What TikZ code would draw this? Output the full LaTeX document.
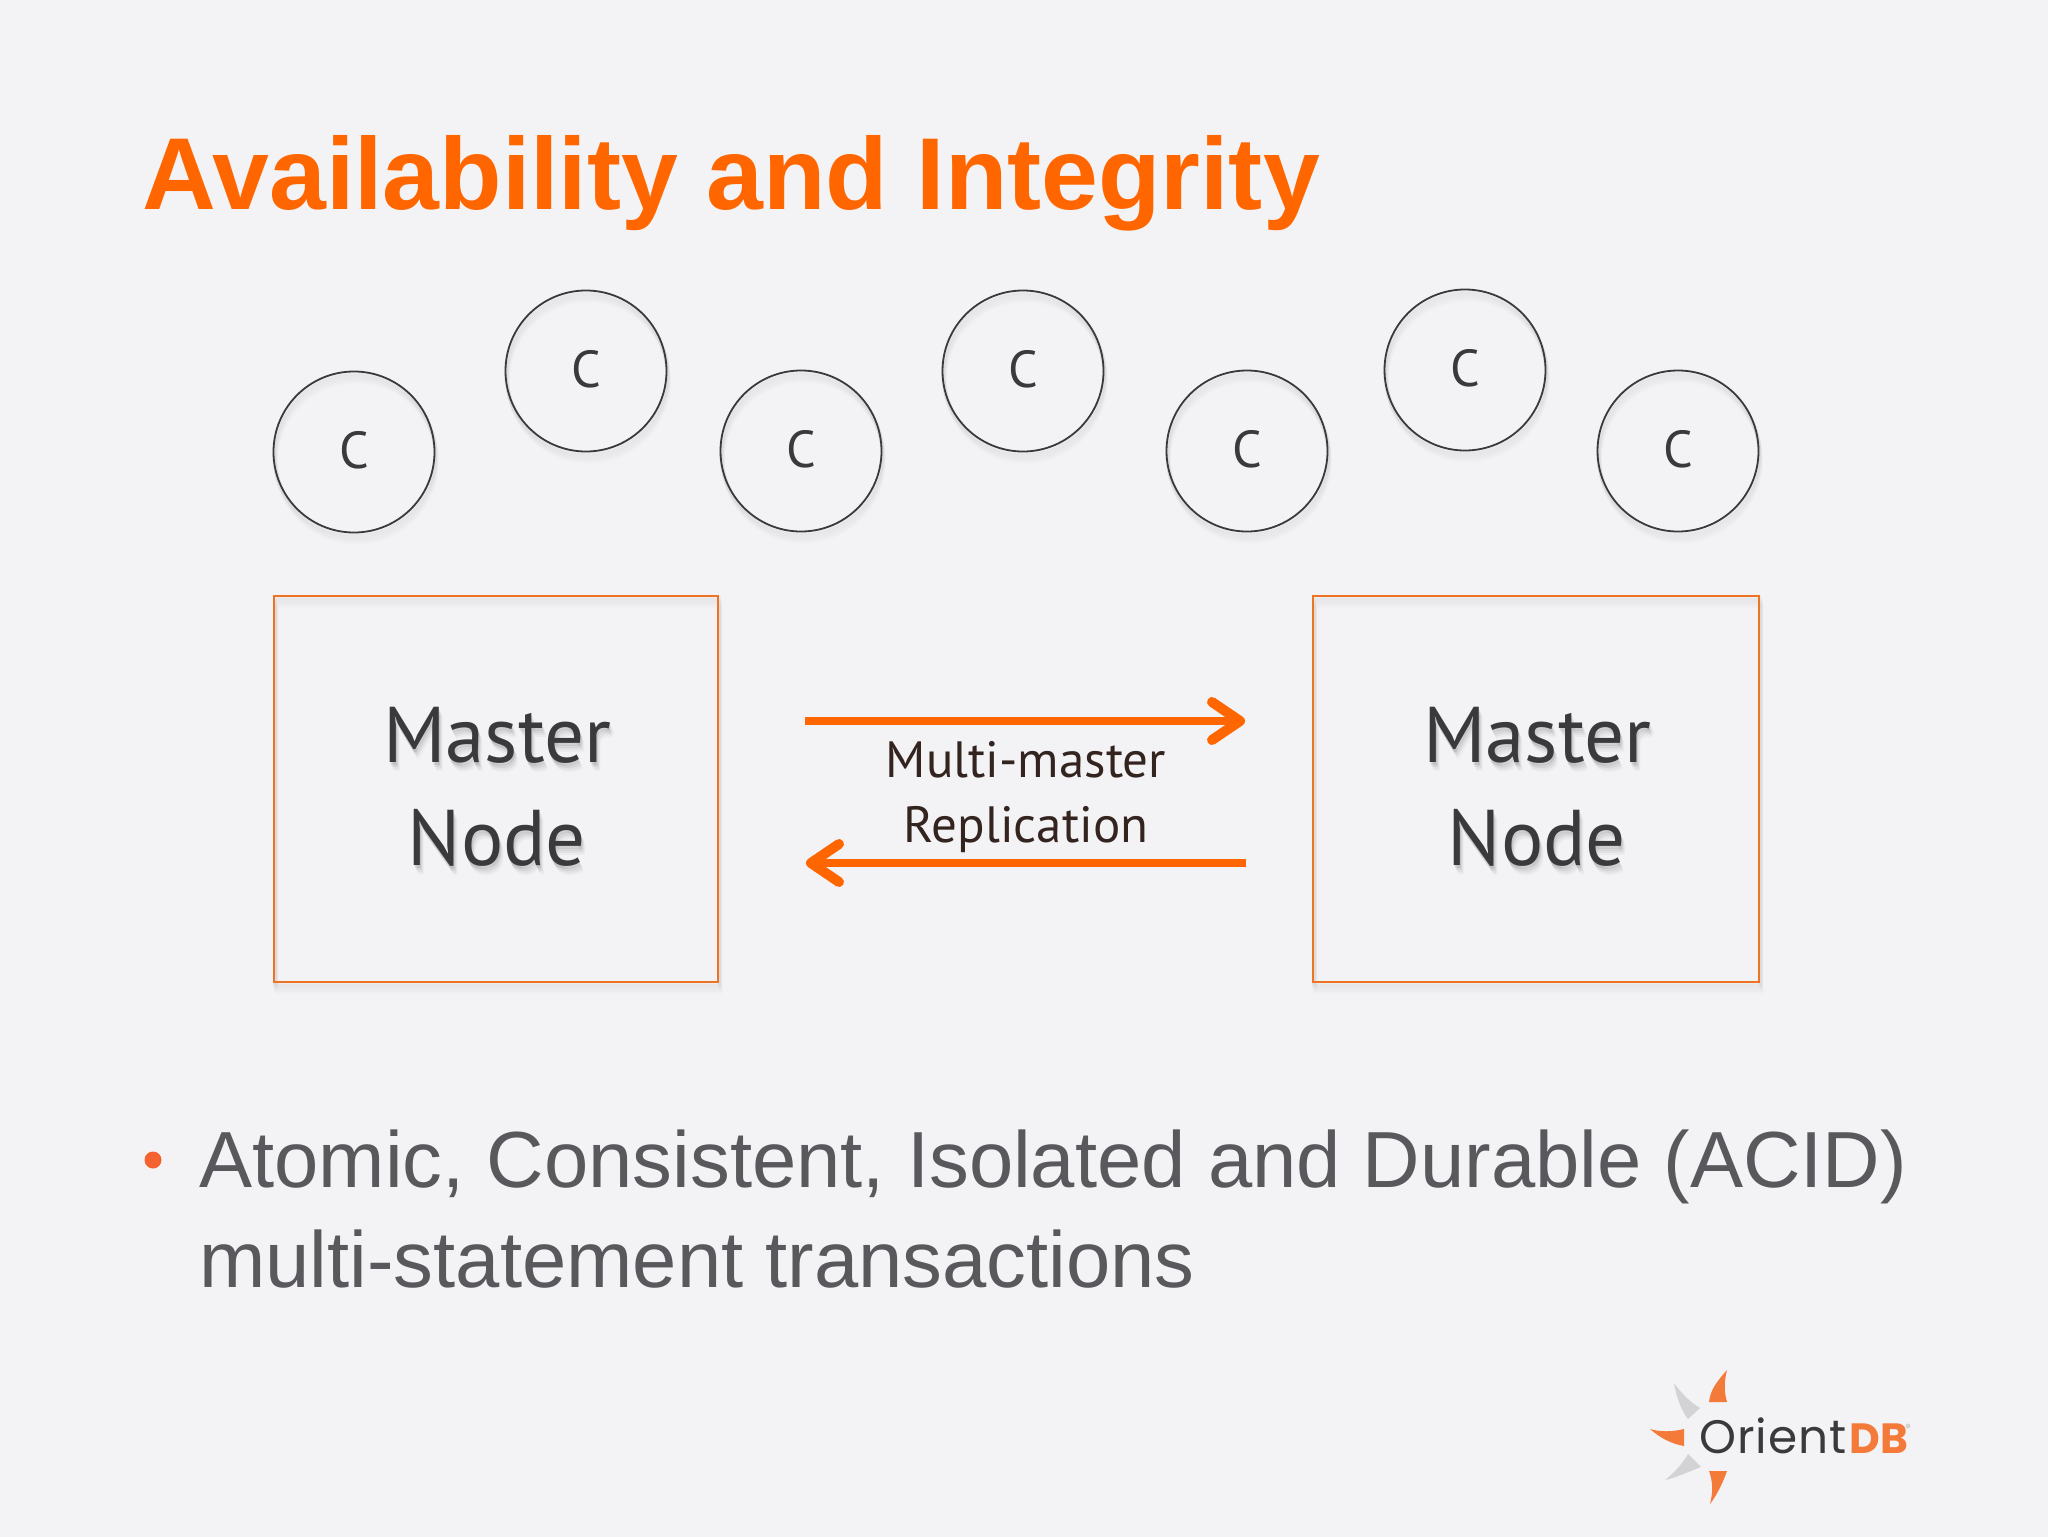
\documentclass[tikz,border=0pt]{standalone}
\usepackage{fontspec}
\setmainfont{Liberation Sans}
\newfontfamily\ptsans{PT Sans}
\newfontfamily\logofont[LetterSpace=2]{Poppins}
\newfontfamily\logobold[Scale=0.92]{Poppins}
\usetikzlibrary{arrows.meta}
\definecolor{bgc}{HTML}{F3F2F4}
\definecolor{orangeT}{HTML}{FF6600}
\definecolor{boxo}{HTML}{EE7424}
\definecolor{dark}{HTML}{3A3A3C}
\definecolor{bodyc}{HTML}{59585C}
\definecolor{bull}{HTML}{F4622F}
\definecolor{lab}{HTML}{33241F}
\definecolor{lgo}{HTML}{F47A3A}
\definecolor{lgg}{HTML}{D3D2D4}
\tikzset{
  x=0.5pt,y=-0.5pt,
  client/.style={circle,draw=dark,line width=0.9pt,minimum size=80.5pt,inner sep=0pt,text=dark,font=\ptsans\fontsize{26}{26}\selectfont,text depth=2pt},
  nodebox/.style={draw=boxo,line width=0.8pt,inner sep=0pt},
  nodetxt/.style={font=\ptsans\fontsize{39.5}{39.5}\selectfont,text=dark,align=center},
  repl/.style={line width=4.2pt,orangeT,-{Straight Barb[length=14pt,width=19pt,line width=5pt,round]}},
  logopart/.style={fill=lgo,draw=none},
  logogrey/.style={fill=lgg,draw=none},
}
\newcommand{\softshadow}[1]{%
  \foreach \d/\o in {1/0.025,2/0.025,3/0.02,4/0.015,5/0.01}{
    \draw[black,opacity=\o,line width=2pt,shift={(0.5*\d,2*\d)}] #1;
  }%
}
\begin{document}
\begin{tikzpicture}
\useasboundingbox (0,0) rectangle (2048,1536);
\fill[bgc] (-6,-6) rectangle (2054,1542);
% title
\node[anchor=base west,inner sep=0pt,text=orangeT,font=\bfseries\fontsize{51.1}{51.1}\selectfont] (title) at (142,209) {Availability and Integrity};
% client shadows and circles
\foreach \n/\cx/\cy in {c1/354/452,c2/586/371,c3/801/451,c4/1023/371,c5/1247/451,c6/1465/370,c7/1678/451}{
  \softshadow{(\cx,\cy) circle (80.5)}
  \node[client] (\n) at (\cx,\cy) {C};
}
% master boxes
\softshadow{(274,596) rectangle (718,982)}
\softshadow{(1313,596) rectangle (1759,982)}
\node[nodebox,minimum width=222pt,minimum height=193pt] (m1) at (496,789) {};
\node[nodebox,minimum width=223pt,minimum height=193pt] (m2) at (1536,789) {};
\foreach \ox/\oy/\op in {1/3/0.08,2/5/0.06,3/7/0.04,4/9/0.03}{
  \node[nodetxt,opacity=\op,text=black] at (497+\ox,735+\oy) {Master};
  \node[nodetxt,opacity=\op,text=black] at (497+\ox,838+\oy) {Node};
  \node[nodetxt,opacity=\op,text=black] at (1537+\ox,735+\oy) {Master};
  \node[nodetxt,opacity=\op,text=black] at (1537+\ox,838+\oy) {Node};
}
\node[nodetxt] (m1a) at (497,735) {Master};
\node[nodetxt] (m1b) at (497,838) {Node};
\node[nodetxt] (m2a) at (1537,735) {Master};
\node[nodetxt] (m2b) at (1537,838) {Node};
% replication
\coordinate (r1) at (805,721);
\coordinate (r2) at (1245,721);
\coordinate (r3) at (1246,863);
\coordinate (r4) at (806,863);
\draw[repl] (r1) -- (r2);
\draw[repl] (r3) -- (r4);
\node[anchor=base,inner sep=0pt,text=lab,font=\ptsans\fontsize{25.5}{25.5}\selectfont] (ml) at (1026,777) {Multi-master};
\node[anchor=base,inner sep=0pt,text=lab,font=\ptsans\fontsize{25.5}{25.5}\selectfont] (rp) at (1026,842) {Replication};
% bullet
\fill[bull] (153,1160) circle (8.5);
\node[anchor=base west,inner sep=0pt,text=bodyc,font=\fontsize{39.8}{39.8}\selectfont] (b1) at (199,1187) {Atomic, Consistent, Isolated and Durable (ACID)};
\node[anchor=base west,inner sep=0pt,text=bodyc,font=\fontsize{39.8}{39.8}\selectfont] (b2) at (199,1287) {multi-statement transactions};
% logo
\fill[logopart] (1727,1370) .. controls (1718,1380) and (1710,1390) .. (1709,1402) -- (1727,1402) .. controls (1724,1392) and (1724,1382) .. (1727,1370) -- cycle;
\fill[logogrey] (1674,1383) .. controls (1676,1396) and (1681,1410) .. (1688,1419) -- (1700,1408) .. controls (1690,1402) and (1682,1394) .. (1674,1383) -- cycle;
\fill[logopart] (1650,1429) .. controls (1660,1432) and (1672,1432) .. (1684,1429) -- (1684,1446) .. controls (1672,1444) and (1660,1438) .. (1650,1429) -- cycle;
\fill[logogrey] (1665,1480) .. controls (1675,1478) and (1688,1472) .. (1701,1467) -- (1688,1454) .. controls (1682,1464) and (1675,1472) .. (1665,1480) -- cycle;
\fill[logopart] (1709,1471) -- (1727,1471) .. controls (1722,1485) and (1716,1496) .. (1710,1504) .. controls (1713,1492) and (1713,1482) .. (1709,1471) -- cycle;
\node[anchor=base west,inner sep=0pt,text=dark,font=\logofont\fontsize{23.5}{23.5}\selectfont] (lg1) at (1699,1453) {Orient};
\node[anchor=base west,inner sep=0pt,text=lgo,font=\logobold\bfseries\fontsize{23}{23}\selectfont] (lg2) at (1849,1453) {DB};
\fill[lgg] (1908,1426) circle (2.5);
\end{tikzpicture}
\end{document}
